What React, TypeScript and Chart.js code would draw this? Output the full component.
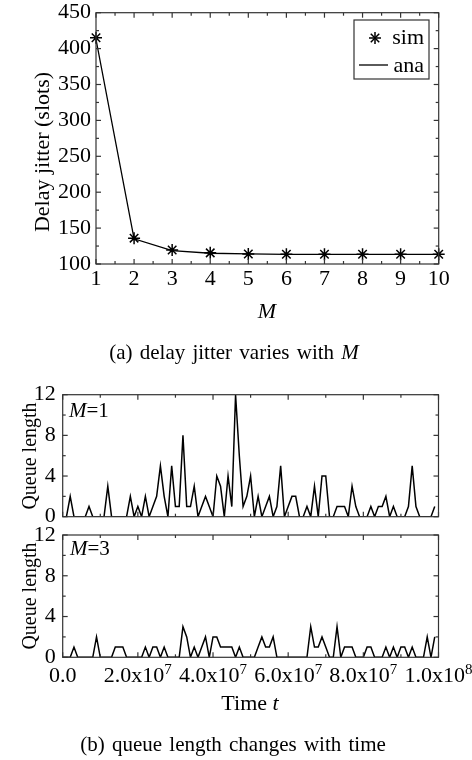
import React, { useEffect, useRef } from "react";
import { Chart, registerables } from "chart.js";

Chart.register(...registerables);

const FONT = "'Liberation Serif', 'Times New Roman', Times, serif";

// ---- (a) delay jitter vs M ----
const M_VALUES = [1, 2, 3, 4, 5, 6, 7, 8, 9, 10];
const SIM_JITTER = [415, 136, 119.5, 115.5, 114, 113.5, 113.5, 113.5, 113.5, 113.5];
const ANA_JITTER = [413, 135, 118.5, 115, 114, 113.5, 113.5, 113.5, 113.5, 113.5];
const JITTER_MIN = 100;
const JITTER_MAX = 450;
const JITTER_STEP = 50;

// ---- (b) queue length vs time ----
const TIME_STEP = 1e6; // sampling interval of the queue trace
const QUEUE_M1 = [
  0, 0, 2, 0, 0, 0, 0, 1, 0, 0,
  0, 0, 3, 0, 0, 0, 0, 0, 2, 0,
  1, 0, 2, 0, 1, 2, 5, 2, 0, 5,
  1, 1, 8, 1, 1, 3, 0, 1, 2, 1,
  0, 4, 3, 0, 4, 1, 12, 6, 1, 2,
  4, 0, 2, 0, 1, 2, 0, 1, 5, 0,
  1, 2, 2, 0, 0, 1, 0, 3, 0, 4,
  4, 0, 0, 1, 1, 1, 0, 3, 1, 0,
  0, 0, 1, 0, 1, 1, 2, 0, 1, 0,
  0, 0, 1, 5, 1, 0, 0, 0, 0, 1,
];
const QUEUE_M3 = [
  0, 0, 0, 1, 0, 0, 0, 0, 0, 2,
  0, 0, 0, 0, 1, 1, 1, 0, 0, 0,
  0, 0, 1, 0, 1, 1, 0, 1, 0, 0,
  0, 0, 3, 2, 0, 1, 0, 1, 2, 0,
  2, 2, 1, 1, 1, 1, 0, 1, 0, 0,
  0, 0, 1, 2, 1, 1, 2, 0, 0, 0,
  0, 0, 0, 0, 0, 0, 3, 1, 1, 2,
  1, 0, 0, 3, 0, 1, 1, 1, 0, 0,
  0, 1, 1, 0, 0, 0, 1, 0, 1, 0,
  1, 1, 0, 1, 0, 0, 0, 2, 0, 2,
];
const QUEUE_MAX = 12;
const QUEUE_Y_TICKS = [0, 4, 8, 12];
const TIME_MAX = 1e8;
const TIME_TICK_VALUES = [0, 2e7, 4e7, 6e7, 8e7, 1e8];
const TIME_TICK_MANTISSA = ["0.0", "2.0", "4.0", "6.0", "8.0", "1.0"];
const TIME_TICK_EXPONENT = ["", "7", "7", "7", "7", "8"];

function midpoints(vals: number[]) {
  const out: number[] = [];
  for (let i = 0; i < vals.length - 1; i++) out.push((vals[i] + vals[i + 1]) / 2);
  return out;
}
function range(a: number, b: number, s: number) {
  const out: number[] = [];
  for (let v = a; v <= b + 1e-9; v += s) out.push(v);
  return out;
}

const framePlugin = {
  id: "frame",
  afterDatasetsDraw(chart: any, _args: any, opts: any) {
    const { ctx, chartArea: a, scales } = chart;
    const xs = scales.x;
    const ys = scales.y;
    ctx.save();
    ctx.strokeStyle = "#333";
    ctx.lineWidth = 1.2;
    const seg = (x1: number, y1: number, x2: number, y2: number) => {
      ctx.beginPath();
      ctx.moveTo(x1, y1);
      ctx.lineTo(x2, y2);
      ctx.stroke();
    };
    const xt = (vals: number[], len: number) =>
      vals.forEach((v) => {
        const p = xs.getPixelForValue(v);
        seg(p, a.bottom, p, a.bottom - len);
        seg(p, a.top, p, a.top + len);
      });
    const yt = (vals: number[], len: number) =>
      vals.forEach((v) => {
        const p = ys.getPixelForValue(v);
        seg(a.left, p, a.left + len, p);
        seg(a.right, p, a.right - len, p);
      });
    xt(opts.xMajor || [], 5);
    xt(opts.xMinor || [], 3);
    yt(opts.yMajor || [], 5);
    yt(opts.yMinor || [], 3);
    ctx.strokeRect(a.left, a.top, a.right - a.left, a.bottom - a.top);
    ctx.restore();
  },
};

const insetLegendPlugin = {
  id: "insetLegend",
  afterDraw(chart: any) {
    const { ctx, chartArea: a } = chart;
    const bx = a.right - 84.7;
    const by = a.top + 7.3;
    const bw = 75;
    const bh = 59;
    ctx.save();
    ctx.fillStyle = "#fff";
    ctx.fillRect(bx, by, bw, bh);
    ctx.strokeStyle = "#333";
    ctx.lineWidth = 1.2;
    ctx.strokeRect(bx, by, bw, bh);
    const cx = bx + 21;
    const cy = by + 18;
    const r = 6;
    ctx.strokeStyle = "#000";
    ctx.lineWidth = 1.5;
    for (let k = 0; k < 4; k++) {
      const ang = (k * Math.PI) / 4;
      ctx.beginPath();
      ctx.moveTo(cx - r * Math.cos(ang), cy - r * Math.sin(ang));
      ctx.lineTo(cx + r * Math.cos(ang), cy + r * Math.sin(ang));
      ctx.stroke();
    }
    ctx.lineWidth = 1.3;
    ctx.beginPath();
    ctx.moveTo(bx + 5, by + 45);
    ctx.lineTo(bx + 34, by + 45);
    ctx.stroke();
    ctx.fillStyle = "#000";
    ctx.font = `22px ${FONT}`;
    ctx.textAlign = "right";
    ctx.textBaseline = "alphabetic";
    const names = chart.data.datasets.map((d: any) => d.label);
    ctx.fillText(names[0], bx + 70, by + 24);
    ctx.fillText(names[1], bx + 70, by + 51.5);
    ctx.restore();
  },
};

const timeLabelPlugin = {
  id: "timeLabels",
  afterDraw(chart: any) {
    const { ctx, chartArea: a, scales } = chart;
    const xs = scales.x;
    ctx.save();
    ctx.fillStyle = "#000";
    ctx.textBaseline = "alphabetic";
    ctx.textAlign = "left";
    const base = a.bottom + 24.7;
    TIME_TICK_VALUES.forEach((v, i) => {
      const m = TIME_TICK_MANTISSA[i];
      const e = TIME_TICK_EXPONENT[i];
      const txt = e ? `${m}x10` : m;
      ctx.font = `22px ${FONT}`;
      const wb = ctx.measureText(txt).width;
      ctx.font = `15px ${FONT}`;
      const ws = e ? ctx.measureText(e).width : 0;
      const left = xs.getPixelForValue(v) - (wb + ws) / 2;
      ctx.font = `22px ${FONT}`;
      ctx.fillText(txt, left, base);
      if (e) {
        ctx.font = `15px ${FONT}`;
        ctx.fillText(e, left + wb, base - 8);
      }
    });
    ctx.restore();
  },
};

function fixWidth(w: number) {
  return (s: any) => {
    s.width = w;
    s.paddingTop = 0;
    s.paddingBottom = 0;
    s.paddingLeft = 0;
    s.paddingRight = 0;
  };
}
function fixHeight(h: number) {
  return (s: any) => {
    s.height = h;
    s.paddingTop = 0;
    s.paddingBottom = 0;
    s.paddingLeft = 0;
    s.paddingRight = 0;
  };
}

function ChartCanvas({ top, height, build }: { top: number; height: number; build: () => any }) {
  const ref = useRef<HTMLCanvasElement>(null);
  useEffect(() => {
    const chart = new Chart(ref.current as HTMLCanvasElement, build());
    return () => chart.destroy();
  }, []);
  return (
    <canvas
      ref={ref}
      width={472}
      height={height}
      style={{ position: "absolute", left: 0, top, width: 472, height }}
    />
  );
}

function jitterConfig() {
  return {
    type: "line",
    data: {
      datasets: [
        {
          label: "sim",
          data: M_VALUES.map((m, i) => ({ x: m, y: SIM_JITTER[i] })),
          showLine: false,
          pointStyle: "star",
          pointRadius: 6,
          pointBorderWidth: 1.5,
          borderColor: "#000",
          backgroundColor: "#000",
          clip: false,
        },
        {
          label: "ana",
          data: M_VALUES.map((m, i) => ({ x: m, y: ANA_JITTER[i] })),
          pointRadius: 0,
          borderWidth: 1.3,
          borderColor: "#000",
          tension: 0,
          fill: false,
        },
      ],
    },
    options: {
      responsive: false,
      animation: false,
      layout: { padding: { left: 0, right: 33.3, top: 12.7, bottom: 36 } },
      plugins: {
        legend: { display: false },
        tooltip: { enabled: false },
        frame: {
          xMajor: M_VALUES,
          xMinor: midpoints(M_VALUES),
          yMajor: range(JITTER_MIN, JITTER_MAX, JITTER_STEP),
          yMinor: range(JITTER_MIN + JITTER_STEP / 2, JITTER_MAX, JITTER_STEP),
        },
      },
      scales: {
        x: {
          type: "linear",
          min: M_VALUES[0],
          max: M_VALUES[M_VALUES.length - 1],
          ticks: { stepSize: 1, font: { size: 22, family: FONT }, color: "#000", padding: 2, maxRotation: 0 },
          grid: { display: false, drawTicks: false },
          border: { display: false },
          afterFit: fixHeight(30),
        },
        y: {
          type: "linear",
          min: JITTER_MIN,
          max: JITTER_MAX,
          ticks: { stepSize: JITTER_STEP, font: { size: 22, family: FONT }, color: "#000", padding: 5 },
          grid: { display: false, drawTicks: false },
          border: { display: false },
          afterFit: fixWidth(96),
        },
      },
    },
    plugins: [framePlugin, insetLegendPlugin],
  };
}

function queueConfig(values: number[], padTop: number, padBottom: number, withTimeLabels: boolean) {
  return {
    type: "line",
    data: {
      datasets: [
        {
          label: "queue",
          data: values.map((q, i) => ({ x: i * TIME_STEP, y: q })),
          pointRadius: 0,
          borderWidth: 1.5,
          borderColor: "#000",
          tension: 0,
          fill: false,
        },
      ],
    },
    options: {
      responsive: false,
      animation: false,
      layout: { padding: { left: 0, right: 33.5, top: padTop, bottom: padBottom } },
      plugins: {
        legend: { display: false },
        tooltip: { enabled: false },
        frame: {
          xMajor: range(0, TIME_MAX, 2e7),
          xMinor: range(1e7, TIME_MAX, 2e7),
          yMajor: QUEUE_Y_TICKS,
          yMinor: midpoints(QUEUE_Y_TICKS),
        },
      },
      scales: {
        x: {
          type: "linear",
          min: 0,
          max: TIME_MAX,
          ticks: { display: false },
          grid: { display: false, drawTicks: false },
          border: { display: false },
          afterFit: fixHeight(0),
        },
        y: {
          type: "linear",
          min: 0,
          max: QUEUE_MAX,
          ticks: { stepSize: 4, font: { size: 22, family: FONT }, color: "#000", padding: 7 },
          grid: { display: false, drawTicks: false },
          border: { display: false },
          afterFit: fixWidth(62.7),
        },
      },
    },
    plugins: withTimeLabels ? [framePlugin, timeLabelPlugin] : [framePlugin],
  };
}

const baseText: React.CSSProperties = {
  position: "absolute",
  fontFamily: FONT,
  color: "#000",
  whiteSpace: "nowrap",
  lineHeight: 1,
};

function Centered({ x, y, size, rotate, spacing, children }: any) {
  return (
    <div
      style={{
        ...baseText,
        left: x,
        top: y,
        fontSize: size,
        wordSpacing: spacing || 0,
        transform: `translate(-50%, -50%)${rotate ? " rotate(-90deg)" : ""}`,
      }}
    >
      {children}
    </div>
  );
}

export default function App() {
  return (
    <div style={{ position: "absolute", left: 0, top: 0, width: 472, height: 760, background: "#fff", overflow: "hidden" }}>
      <ChartCanvas top={0} height={330} build={jitterConfig} />
      <ChartCanvas top={380} height={150} build={() => queueConfig(QUEUE_M1, 14.7, 13.3, false)} />
      <ChartCanvas top={520} height={240} build={() => queueConfig(QUEUE_M3, 15, 102.7, true)} />

      <Centered x={42} y={152} size={22} rotate>
        Delay jitter (slots)
      </Centered>
      <Centered x={267} y={311} size={22}>
        <i>M</i>
      </Centered>
      <Centered x={234} y={352} size={21} spacing={2}>
        (a) delay jitter varies with <i>M</i>
      </Centered>

      <Centered x={29} y={456} size={20} rotate>
        Queue length
      </Centered>
      <Centered x={29} y={596} size={20} rotate>
        Queue length
      </Centered>
      <div style={{ ...baseText, left: 69, top: 400, fontSize: 21 }}>
        <i>M</i>=1
      </div>
      <div style={{ ...baseText, left: 70, top: 538, fontSize: 21 }}>
        <i>M</i>=3
      </div>
      <Centered x={250} y={703} size={22}>
        Time <i>t</i>
      </Centered>
      <Centered x={233} y={744} size={21} spacing={2}>
        (b) queue length changes with time
      </Centered>
    </div>
  );
}
